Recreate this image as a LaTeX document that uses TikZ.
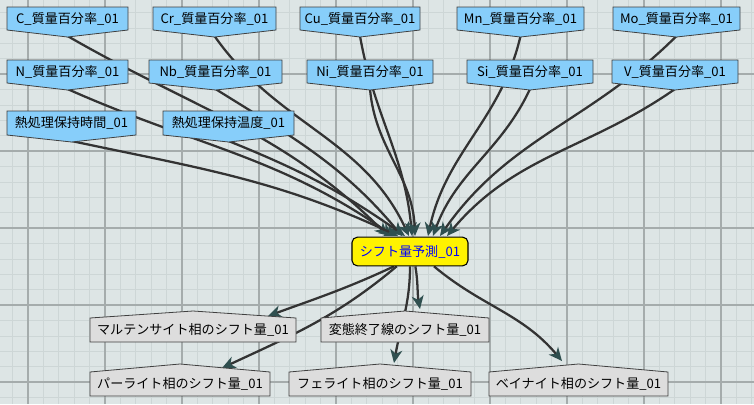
\documentclass[tikz,border=0pt]{standalone}
\usepackage{fontspec}
\setmainfont{Noto Sans CJK JP}
\usetikzlibrary{arrows.meta}
\pgfdeclarelayer{grid}\pgfdeclarelayer{edges}
\pgfsetlayers{grid,edges,main}
\definecolor{inblue}{HTML}{87CEFA}
\definecolor{outgray}{HTML}{DDDDDD}
\definecolor{edgec}{HTML}{2F4F4F}
\definecolor{bgc}{HTML}{DDE5E5}
\definecolor{minorc}{HTML}{CDD6D6}
\definecolor{majorc}{HTML}{A5ACAC}
\tikzset{
  lbl/.style={font=\fontsize{9.8}{11}\selectfont, inner sep=0pt},
  shp/.style={draw=black!75, line width=0.6pt},
  conn/.style={draw=black!80, line width=1.7pt, -{Stealth[length=10pt,width=9pt,inset=3pt,color=edgec]}},
}
\newcommand{\innode}[6]{%
  \fill[inblue] (#2,#4) -- (#3,#4) -- (#3,#5) -- ({(#2+#3)/2},{#5+7}) -- (#2,#5) -- cycle;
  \draw[shp] (#2,#4) -- (#3,#4) -- (#3,#5) -- ({(#2+#3)/2},{#5+7}) -- (#2,#5) -- cycle;
  \node[lbl] (#1) at ({(#2+#3)/2},{(#4+#5)/2}) {#6};
  \coordinate (#1-t) at ({(#2+#3)/2},{#5+6});}
\newcommand{\outnode}[7]{%
  \fill[outgray] (#2,#5) -- (#2,#4) -- ({(#2+#3)/2},#6) -- (#3,#4) -- (#3,#5) -- cycle;
  \draw[shp] (#2,#5) -- (#2,#4) -- ({(#2+#3)/2},#6) -- (#3,#4) -- (#3,#5) -- cycle;
  \node[lbl] (#1) at ({(#2+#3)/2},{(#4+#5)/2}) {#7};}
\begin{document}
\begin{tikzpicture}[x=0.75pt,y=-0.75pt]
\useasboundingbox (0,0) rectangle (754,404);
\begin{pgfonlayer}{grid}
\fill[bgc] (0,0) rectangle (754,404);
\foreach \i in {0,...,50} \draw[minorc, line width=0.4pt] ({-3+15.4*\i},0) -- ({-3+15.4*\i},404);
\foreach \i in {0,...,27} \draw[minorc, line width=0.4pt] (0,{-3+15.4*\i}) -- (754,{-3+15.4*\i});
\foreach \i in {0,...,10} \draw[majorc, line width=0.8pt] ({28+77*\i},0) -- ({28+77*\i},404);
\foreach \i in {0,...,5} \draw[majorc, line width=0.8pt] (0,{-3+77*\i}) -- (754,{-3+77*\i});
\end{pgfonlayer}

\innode{c}{7}{128}{7}{30}{C\_質量百分率\_01}
\innode{cr}{153}{276}{7}{30}{Cr\_質量百分率\_01}
\innode{cu}{300}{420}{7}{30}{Cu\_質量百分率\_01}
\innode{mn}{457}{584}{7}{30}{Mn\_質量百分率\_01}
\innode{mo}{613}{740}{7}{30}{Mo\_質量百分率\_01}
\innode{n}{7}{128}{60}{83}{N\_質量百分率\_01}
\innode{nb}{149}{282}{60}{83}{Nb\_質量百分率\_01}
\innode{ni}{307}{433}{60}{83}{Ni\_質量百分率\_01}
\innode{si}{467}{593}{60}{83}{Si\_質量百分率\_01}
\innode{v}{612}{738}{60}{83}{V\_質量百分率\_01}
\innode{tm}{7}{136}{111}{135}{熱処理保持時間\_01}
\innode{tp}{163}{294}{111}{135}{熱処理保持温度\_01}

\node[draw=black, line width=0.8pt, fill=yellow, rounded corners=4pt, minimum width=87pt, minimum height=21.5pt, inner sep=0pt, font=\fontsize{9.8}{11}\selectfont, text=blue] (p) at (410,251.5) {シフト量予測\_01};

\outnode{ma}{90}{296}{318}{342}{311}{マルテンサイト相のシフト量\_01}
\outnode{he}{321}{489}{318}{342}{311}{変態終了線のシフト量\_01}
\outnode{pe}{90}{270}{372}{396}{364}{パーライト相のシフト量\_01}
\outnode{fe}{289}{471}{372}{396}{364}{フェライト相のシフト量\_01}
\outnode{be}{489}{668}{372}{396}{364}{ベイナイト相のシフト量\_01}

\begin{pgfonlayer}{edges}
\coordinate (t1) at (388,236); \coordinate (t2) at (393,236); \coordinate (t3) at (398,236);
\coordinate (t4) at (402,236); \coordinate (t5) at (405,236); \coordinate (t6) at (409,236);
\coordinate (t7) at (412,236); \coordinate (t8) at (415,236); \coordinate (t9) at (428,236);
\coordinate (t10) at (433,236); \coordinate (t11) at (440,236); \coordinate (t12) at (447,236);
\draw[conn] (c-t) to[out=-30,in=135] (t1);
\draw[conn] (n-t) to[out=-24,in=145] (t2);
\draw[conn] (tm-t) to[out=-12,in=155] (t3);
\draw[conn] (nb-t) to[out=-32,in=130] (t4);
\draw[conn] (tp-t) to[out=-22,in=145] (t5);
\draw[conn] (cr-t) to[out=-55,in=115] (t6);
\draw[conn] (cu-t) to[out=-80,in=95] (t7);
\draw[conn] (ni-t) to[out=-85,in=92] (t8);
\draw[conn] (mn-t) to[out=-103,in=78] (t9);
\draw[conn] (si-t) to[out=-115,in=70] (t10);
\draw[conn] (mo-t) to[out=-135,in=55] (t11);
\draw[conn] (v-t) to[out=-145,in=50] (t12);
\coordinate (m1) at (268,316); \coordinate (m2) at (222,368);
\coordinate (m3) at (420,309); \coordinate (m4) at (394,363); \coordinate (m5) at (562,361);
\draw[conn] ([xshift=-12pt]p.south) to[out=-155,in=20] (m1);
\draw[conn] ([xshift=-10pt]p.south) to[out=-140,in=25] (m2);
\draw[conn] ([xshift=4pt]p.south) to[out=-80,in=100] (m3);
\draw[conn] ([xshift=0pt]p.south) to[out=-90,in=80] (m4);
\draw[conn] ([xshift=18pt]p.south) to[out=-40,in=130] (m5);
\end{pgfonlayer}
\end{tikzpicture}
\end{document}
